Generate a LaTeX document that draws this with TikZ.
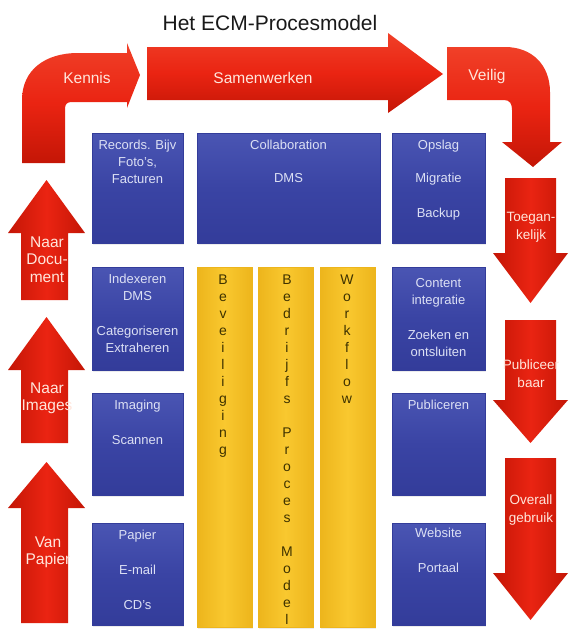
\documentclass[tikz,border=0pt]{standalone}
\usepackage{fontspec}
\setmainfont{Liberation Sans}
\usetikzlibrary{positioning, shadows}

\definecolor{ecmblue}{HTML}{3A44A4}
\definecolor{ecmbluelt}{HTML}{4A55B3}
\definecolor{ecmbluedk}{HTML}{333C9A}
\definecolor{ecmgold}{HTML}{F9C82F}
\definecolor{ecmgolddk}{HTML}{EDB51C}
\definecolor{ecmred}{HTML}{EA2412}
\definecolor{ecmredlt}{HTML}{F04028}
\definecolor{ecmreddk}{HTML}{C41606}
\definecolor{boxfont}{HTML}{DCE0F4}
\definecolor{arrowfont}{HTML}{FFE6DC}
\definecolor{barfont}{HTML}{3E3200}

\begin{document}
\begin{tikzpicture}[x=1pt, y=-1pt,
    bluebox/.style={rectangle, draw=ecmbluedk, top color=ecmbluelt, bottom color=ecmbluedk, middle color=ecmblue, inner sep=0pt,
      drop shadow={opacity=0.15, shadow xshift=1pt, shadow yshift=-1.5pt}},
    goldbar/.style={rectangle, draw=ecmgolddk, left color=ecmgolddk, right color=ecmgolddk, middle color=ecmgold, inner sep=0pt,
      minimum width=55pt, minimum height=360pt, drop shadow={opacity=0.15, shadow xshift=1pt, shadow yshift=-1.5pt}},
    boxtext/.style={font=\fontsize{13}{17}\selectfont, text=boxfont, align=center, inner sep=0pt},
    redtext/.style={font=\fontsize{15.5}{17.5}\selectfont, text=arrowfont, align=center, inner sep=0pt, anchor=north},
    sidetext/.style={font=\fontsize{13.5}{18}\selectfont, text=arrowfont, align=center, inner sep=0pt, anchor=north},
    barletters/.style={font=\fontsize{14}{17}\selectfont, text=barfont, align=center, inner sep=0pt, anchor=north},
    redH/.style={top color=ecmredlt, bottom color=ecmreddk, middle color=ecmred},
    redV/.style={left color=ecmreddk, right color=ecmreddk, middle color=ecmred}
  ]
  \useasboundingbox (0,0) rectangle (581,637);

  % title
  \node[font=\fontsize{21}{25}\selectfont, text=black!90] (title) at (270,22.5) {Het ECM-Procesmodel};

  % top arrows
  \shade[redH] (22,163) -- (22,100) .. controls (22,70) and (45,53) .. (78,53) -- (127,53) -- (127,43) -- (140,75)
    -- (127,108) -- (127,102) -- (72,102) .. controls (67,102) and (65,104) .. (65,109) -- (65,163) -- cycle;
  \shade[redH] (147,47) -- (388,47) -- (388,33) -- (443,74) -- (388,113) -- (388,100) -- (147,100) -- cycle;
  \shade[redH] (447,47) -- (505,47) .. controls (532,47) and (550,65) .. (550,92) -- (550,142) -- (562,142) -- (533,167)
    -- (502,142) -- (512,142) -- (512,110) .. controls (512,104) and (510,100) .. (504,100) -- (447,100) -- cycle;
  \node[redtext] (kennis) at (87,72.5) {Kennis};
  \node[redtext] (samen) at (263,72.5) {Samenwerken};
  \node[redtext] (veilig) at (487,69.5) {Veilig};

  % left arrows, pointing up
  \foreach \tip/\base/\foot in {180/233/300, 317/370/443, 462/508/623}
    \shade[redV] (21,\foot) -- (21,\base) -- (8,\base) -- (46.5,\tip) -- (85,\base) -- (68,\base) -- (68,\foot) -- cycle;
  \node[redtext] (naardoc) at (47,236.5) {Naar\\Docu-\\ment};
  \node[redtext] (naarimg) at (47,382.5) {Naar\\Images};
  \node[redtext] (vanpap) at (48,536.5) {Van\\Papier};

  % right arrows, pointing down
  \foreach \top/\base/\tip in {178/253/303, 320/400/443, 458/573/620}
    \shade[redV] (505,\top) -- (556,\top) -- (556,\base) -- (568,\base) -- (530.5,\tip) -- (493,\base) -- (505,\base) -- cycle;
  \node[sidetext] (toeg) at (531,212) {Toegan-\\kelijk};
  \node[sidetext] (publ) at (531,360) {Publiceer\\baar};
  \node[sidetext] (overall) at (531,495) {Overall\\gebruik};

  % blue blocks
  \node[bluebox, minimum width=91pt, minimum height=110pt] (rec) at (137.5,188) {};
  \node[bluebox, minimum width=91pt, minimum height=103pt] (idx) at (137.5,318.5) {};
  \node[bluebox, minimum width=91pt, minimum height=102pt] (img) at (137.5,444) {};
  \node[bluebox, minimum width=91pt, minimum height=102pt] (pap) at (137.5,574) {};
  \node[bluebox, minimum width=183pt, minimum height=110pt] (col) at (288.5,188) {};
  \node[bluebox, minimum width=93pt, minimum height=110pt] (ops) at (438.5,188) {};
  \node[bluebox, minimum width=93pt, minimum height=103pt] (cnt) at (438.5,318.5) {};
  \node[bluebox, minimum width=93pt, minimum height=102pt] (pub) at (438.5,444) {};
  \node[bluebox, minimum width=93pt, minimum height=102pt] (web) at (438.5,574) {};

  \node[boxtext, below=7pt of rec.north] (rec-t) {Records. Bijv\\Foto's,\\Facturen};
  \node[boxtext, below=7pt of idx.north] (idx-t) {Indexeren\\DMS\\[18pt]Categoriseren\\Extraheren};
  \node[boxtext, below=7pt of img.north] (img-t) {Imaging\\[18pt]Scannen};
  \node[boxtext, below=7pt of pap.north] (pap-t) {Papier\\[18pt]E-mail\\[18pt]CD's};
  \node[boxtext, below=7pt of col.north] (col-t) {Collaboration\\[16pt]DMS};
  \node[boxtext, below=7pt of ops.north] (ops-t) {Opslag\\[16pt]Migratie\\[18pt]Backup};
  \node[boxtext, below=11pt of cnt.north] (cnt-t) {Content\\integratie\\[18pt]Zoeken en\\ontsluiten};
  \node[boxtext, below=7pt of pub.north] (pub-t) {Publiceren};
  \node[boxtext, below=5pt of web.north] (web-t) {Website\\[18pt]Portaal};

  % yellow bars
  \node[goldbar] (bev) at (224.5,447) {};
  \node[goldbar] (bed) at (285.5,447) {};
  \node[goldbar] (wf) at (347.5,447) {};
  \node[barletters] (bev-t) at (223,275) {B\\e\\v\\e\\i\\l\\i\\g\\i\\n\\g};
  \node[barletters] (bed-t) at (287,275) {B\\e\\d\\r\\i\\j\\f\\s\\[17pt]P\\r\\o\\c\\e\\s\\[17pt]M\\o\\d\\e\\l};
  \node[barletters] (wf-t) at (347,275) {W\\o\\r\\k\\f\\l\\o\\w};
\end{tikzpicture}
\end{document}
